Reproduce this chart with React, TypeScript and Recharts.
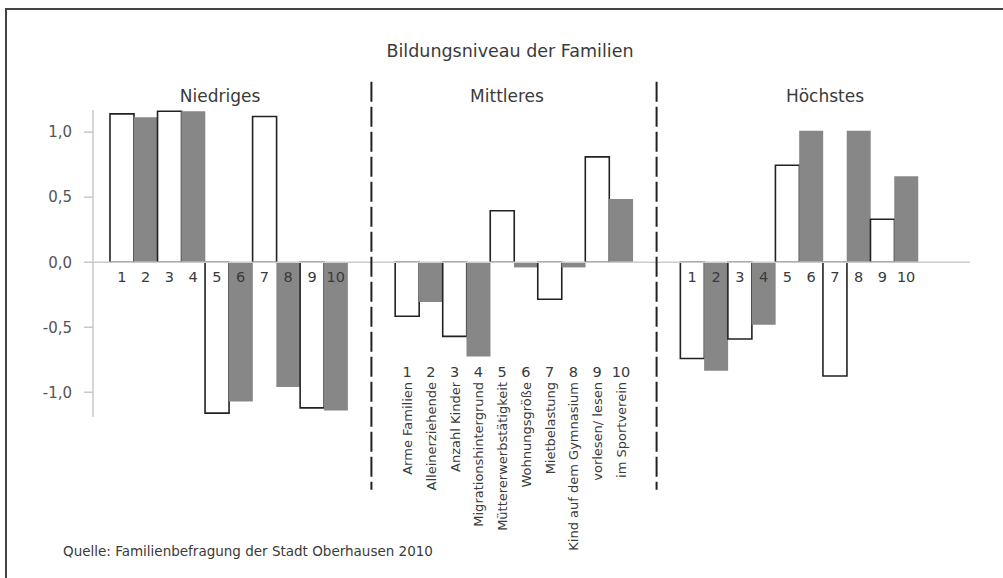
import React from "react";
import { BarChart, Bar, XAxis, YAxis, Cell, ReferenceLine } from "recharts";

const title = "Bildungsniveau der Familien";
const groupNames = ["Niedriges", "Mittleres", "Höchstes"];
const itemNumbers = ["1", "2", "3", "4", "5", "6", "7", "8", "9", "10"];
const itemLabels = [
  "Arme Familien",
  "Alleinerziehende",
  "Anzahl Kinder",
  "Migrationshintergrund",
  "Müttererwerbstätigkeit",
  "Wohnungsgröße",
  "Mietbelastung",
  "Kind auf dem Gymnasium",
  "vorlesen/ lesen",
  "im Sportverein",
];
const niedrigesValues = [1.14, 1.115, 1.16, 1.16, -1.16, -1.07, 1.12, -0.96, -1.12, -1.14];
const mittleresValues = [-0.415, -0.305, -0.57, -0.725, 0.395, -0.04, -0.285, -0.04, 0.81, 0.485];
const hoechstesValues = [-0.74, -0.835, -0.59, -0.48, 0.745, 1.01, -0.875, 1.01, 0.33, 0.66];
const yTicks = [-1, -0.5, 0, 0.5, 1];
const source = "Quelle: Familienbefragung der Stadt Oberhausen 2010";

const FONT = "'DejaVu Sans', sans-serif";
const W = 1003;
const H = 578;
const M_TOP = 110;
const M_BOTTOM = 131;
const X_AXIS_H = 30;
const Y_MIN = -1.19;
const Y_MAX = 1.17;
const PLOT_H = H - M_TOP - M_BOTTOM - X_AXIS_H;
const ZERO_Y = M_TOP + (Y_MAX / (Y_MAX - Y_MIN)) * PLOT_H;

type Row = { key: string; group: number; idx: number; value: number | null };

const seriesByGroup = [niedrigesValues, mittleresValues, hoechstesValues];
const data: Row[] = [];
seriesByGroup.forEach((vals, g) => {
  vals.forEach((v, i) => data.push({ key: `g${g}-${i}`, group: g, idx: i, value: v }));
  if (g < seriesByGroup.length - 1) {
    data.push({ key: `gap${g}a`, group: -1, idx: -1, value: null });
    data.push({ key: `gap${g}b`, group: -1, idx: -1, value: null });
  }
});

const XTick = (props: any) => {
  const { x, payload } = props;
  const d = data[payload.index];
  if (!d || d.idx < 0) return <g />;
  if (d.group === 1) {
    return (
      <g>
        <text x={x} y={372} textAnchor="middle" dominantBaseline="central" fill="#3a3a3a" fontSize={14.5} fontFamily={FONT}>
          {itemNumbers[d.idx]}
        </text>
        <text
          transform={`translate(${x + 5},382) rotate(-90)`}
          textAnchor="end"
          fill="#3a3a3a"
          fontSize={13}
          fontFamily={FONT}
        >
          {itemLabels[d.idx]}
        </text>
      </g>
    );
  }
  return (
    <text x={x} y={ZERO_Y + 15} textAnchor="middle" dominantBaseline="central" fill="#3a3a3a" fontSize={14.5} fontFamily={FONT}>
      {itemNumbers[d.idx]}
    </text>
  );
};

const overlay = (text: string, x: number, y: number, size: number, align: "center" | "left" = "center") => (
  <div
    style={{
      position: "absolute",
      left: x,
      top: y,
      transform: align === "center" ? "translate(-50%, -50%)" : "translate(0, -50%)",
      fontFamily: FONT,
      fontSize: size,
      lineHeight: 1,
      color: "#3a3a3a",
      whiteSpace: "nowrap",
    }}
  >
    {text}
  </div>
);

export default function App() {
  return (
    <div style={{ position: "absolute", left: 0, top: 0, width: W, height: H, background: "#fff", overflow: "hidden" }}>
      <div style={{ position: "absolute", left: 5, top: 8, width: W, height: 2, background: "#444" }} />
      <div style={{ position: "absolute", left: 5, top: 8, width: 2, height: H, background: "#444" }} />
      <BarChart
        width={W}
        height={H}
        data={data}
        margin={{ top: M_TOP, right: 33, bottom: M_BOTTOM, left: 0 }}
        barCategoryGap={0}
        barGap={0}
      >
        <YAxis
          type="number"
          domain={[Y_MIN, Y_MAX]}
          ticks={yTicks}
          width={93}
          axisLine={{ stroke: "#c8c8c8", strokeWidth: 1.5 }}
          tickLine={{ stroke: "#c8c8c8", strokeWidth: 1.5 }}
          tickSize={9}
          tickMargin={12}
          tick={{ fill: "#555", fontSize: 15, fontFamily: FONT }}
          tickFormatter={(v: number) => v.toFixed(1).replace(".", ",")}
        />
        <XAxis
          dataKey="key"
          type="category"
          interval={0}
          height={X_AXIS_H}
          padding={{ left: 17, right: 52 }}
          axisLine={false}
          tickLine={false}
          tickSize={0}
          tick={<XTick />}
        />
        <ReferenceLine y={0} stroke="#cccccc" strokeWidth={1.5} />
        <Bar dataKey="value" isAnimationActive={false}>
          {data.map((d) => (
            <Cell
              key={d.key}
              fill={d.idx % 2 === 0 ? "#ffffff" : "#878787"}
              stroke={d.idx % 2 === 0 ? "#222" : "none"}
              strokeWidth={1.6}
            />
          ))}
        </Bar>
        <ReferenceLine
          segment={[
            { x: "gap0b", y: 1.387 },
            { x: "gap0b", y: -1.75 },
          ]}
          position="start"
          ifOverflow="visible"
          stroke="#222"
          strokeWidth={2}
          strokeDasharray="20 5"
        />
        <ReferenceLine
          segment={[
            { x: "gap1b", y: 1.387 },
            { x: "gap1b", y: -1.75 },
          ]}
          position="start"
          ifOverflow="visible"
          stroke="#222"
          strokeWidth={2}
          strokeDasharray="20 5"
        />
      </BarChart>
      {overlay(title, 510, 52, 17.5)}
      {overlay(groupNames[0], 220, 96, 17)}
      {overlay(groupNames[1], 507, 96, 17)}
      {overlay(groupNames[2], 825, 96, 17)}
      {overlay(source, 63, 552, 13.5, "left")}
    </div>
  );
}
